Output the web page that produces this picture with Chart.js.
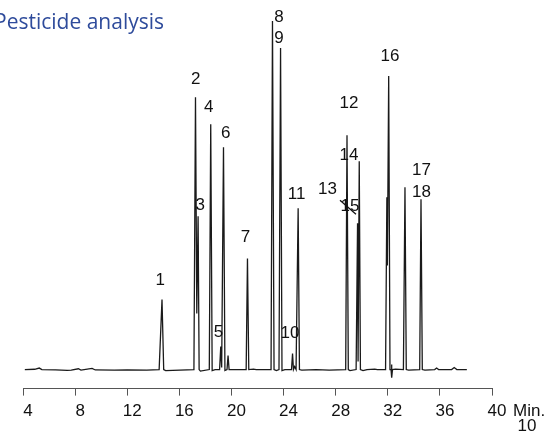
<!DOCTYPE html>
<html>
<head>
<meta charset="utf-8">
<title>Pesticide analysis</title>
<script src="https://cdn.jsdelivr.net/npm/chart.js@4.4.1/dist/chart.umd.min.js"></script>
<style>
    html, body { margin: 0; padding: 0; background: #fff; }
    #wrap { position: relative; width: 560px; height: 432px; }
</style>
</head>
<body>
<div id="wrap"><canvas id="chromChart" width="560" height="432"></canvas></div>
<script>
// retention time (min) and detector signal
const traceTime = [
    4.14, 4.9, 5.25, 5.45, 6.5, 7.4, 7.7, 8.25, 8.45, 9.3, 9.55, 11.0, 12.0, 13.5,
    14.45, 14.67, 14.8, 14.95, 17.12, 17.24, 17.34, 17.44, 17.52, 17.62,
    18.3, 18.41, 18.52, 18.75, 19.09, 19.18, 19.25, 19.39, 19.5, 19.66, 19.74, 19.82,
    21.13, 21.23, 21.33, 21.7, 21.9, 23.04, 23.15, 23.27, 23.45, 23.65, 23.77, 23.88, 24.1,
    24.61, 24.69, 24.76, 24.85, 24.96, 25.12, 25.22, 25.4, 26.5, 27.5,
    28.77, 28.87, 28.97, 29.1, 29.57, 29.68, 29.72, 29.81, 29.9, 30.1, 30.4, 31.0, 31.2,
    31.83, 31.93, 31.97, 32.07, 32.17, 32.25, 32.28, 32.32, 32.36, 32.6, 33.2,
    33.22, 33.32, 33.42, 33.6, 34.45, 34.55, 34.65, 34.85, 35.6, 35.75, 35.9, 36.9, 37.1, 37.3, 38.07
];
const traceSignal = [
    0, 0.3, 1.5, 0, -0.3, -0.8, -0.5, 0.8, -0.5, 1.2, -0.4, -0.6, -0.3, -0.5,
    0, 70, 0, -1, 0, 272, 56, 153, 0, -1.5,
    0, 245, -1, 0, 0, 23, 2, 222, -1, 0, 14, 0,
    0, 111, 0, 0.5, 0, 0, 348, 0, -1, 0, 321, -1, 0,
    0, 16, 0, 3, 0, 161, 0, -0.5, 0, -0.5,
    0, 234, 0, -1, 0, 146, 8, 208, 0, -1, 0, 0.5, 0,
    0, 172, 104, 293, 0, 0, 5, -8, 0, 0.5, 0,
    0, 182, 0, -0.5, 0, 170, 0, -0.5, 0, 1.5, 0, 0, 2, 0, 0
];

const peakNames = ['1', '2', '3', '4', '5', '6', '7', '8', '9', '10', '11', '12', '13', '14', '15', '16', '17', '18'];
const labelTime = [14.53, 17.26, 17.6, 18.26, 19.01, 19.57, 21.08, 23.64, 23.64, 24.49, 25.0, 29.02, 27.37, 29.02, 29.1, 32.17, 34.59, 34.59];
const labelSignal = [89, 290, 164, 262, 37, 236, 132, 352, 331, 36, 175, 266, 180, 214, 163, 313, 199, 177];
// leader drawn from label 13 towards its peak
const leader13 = { from: [28.33, 169], to: [29.56, 155] };

const timeTicks = [4, 8, 12, 16, 20, 24, 28, 32, 36, 40];

const labelFont = '17px "Liberation Sans", Arial, sans-serif';

const peakLabelsPlugin = {
    id: 'peakLabels',
    afterDatasetsDraw(chart) {
        const ctx = chart.ctx;
        const x = chart.scales.x;
        const y = chart.scales.y;
        ctx.save();
        ctx.font = labelFont;
        ctx.fillStyle = '#111';
        ctx.textAlign = 'center';
        ctx.textBaseline = 'middle';
        peakNames.forEach((name, i) => {
            ctx.fillText(name, x.getPixelForValue(labelTime[i]), y.getPixelForValue(labelSignal[i]));
        });
        ctx.strokeStyle = '#111';
        ctx.lineWidth = 1.3;
        ctx.beginPath();
        ctx.moveTo(x.getPixelForValue(leader13.from[0]), y.getPixelForValue(leader13.from[1]));
        ctx.lineTo(x.getPixelForValue(leader13.to[0]), y.getPixelForValue(leader13.to[1]));
        ctx.stroke();

        // unit after the last tick, and the page number underneath
        const end = x.getPixelForValue(40);
        ctx.textAlign = 'left';
        ctx.fillText('Min.', end + 21, 411);
        ctx.textAlign = 'center';
        ctx.textBaseline = 'alphabetic';
        ctx.fillText('10', end + 35, 431);

        ctx.font = '21px "Open Sans", sans-serif';
        ctx.fillStyle = '#2e4b9b';
        ctx.textAlign = 'left';
        ctx.fillText('Pesticide analysis', -6, 29);
        ctx.restore();
    }
};

const ctx = document.getElementById('chromChart').getContext('2d');
new Chart(ctx, {
    type: 'line',
    data: {
        datasets: [{
            data: traceTime.map((t, i) => ({ x: t, y: traceSignal[i] })),
            borderColor: '#1a1a1a',
            borderWidth: 1.3,
            pointRadius: 0,
            tension: 0,
            fill: false
        }]
    },
    options: {
        responsive: false,
        animation: false,
        layout: { padding: { left: 23, right: 68, top: 10, bottom: 4 } },
        plugins: {
            legend: { display: false },
            tooltip: { enabled: false }
        },
        scales: {
            x: {
                type: 'linear',
                min: 4,
                max: 40,
                afterBuildTicks: scale => { scale.ticks = timeTicks.map(v => ({ value: v })); },
                ticks: {
                    font: { family: '"Liberation Sans", Arial, sans-serif', size: 17 },
                    color: '#111',
                    padding: 6,
                    labelOffset: 5,
                    maxRotation: 0
                },
                grid: { drawOnChartArea: false, drawTicks: true, tickLength: 7, color: '#555' },
                border: { display: true, color: '#555', width: 1 }
            },
            y: {
                display: false,
                min: -19,
                max: 359
            }
        }
    },
    plugins: [peakLabelsPlugin]
});
</script>
</body>
</html>
